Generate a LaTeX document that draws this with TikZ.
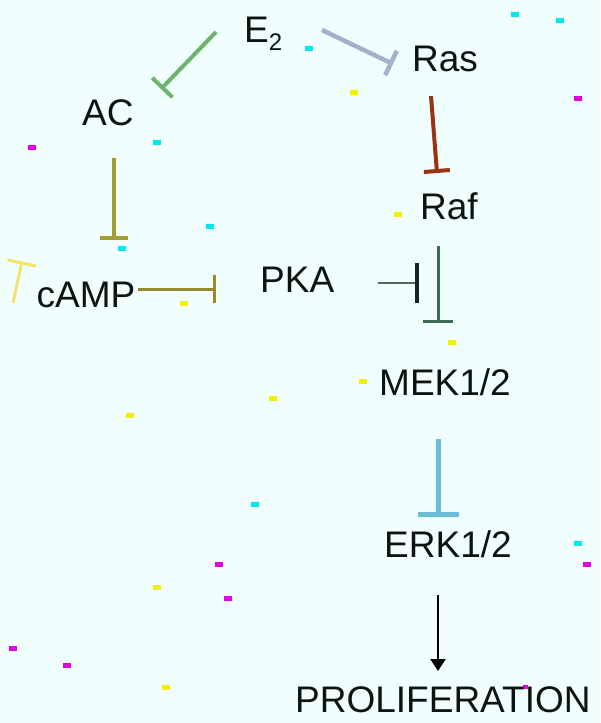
\documentclass[tikz,border=0pt]{standalone}
\usepackage{fontspec}
\setmainfont{Liberation Sans}
\usetikzlibrary{arrows.meta}
\definecolor{bgc}{RGB}{240,255,254}
\definecolor{cGreen}{RGB}{108,180,108}
\definecolor{cBlueGrey}{RGB}{160,178,205}
\definecolor{cBrown}{RGB}{155,50,20}
\definecolor{cOlive}{RGB}{163,156,48}
\definecolor{cOliveB}{RGB}{150,140,45}
\definecolor{cPaleY}{RGB}{240,228,110}
\definecolor{cPkaLine}{RGB}{85,105,95}
\definecolor{cPkaBar}{RGB}{25,35,30}
\definecolor{cDkGreen}{RGB}{62,108,82}
\definecolor{cLtBlue}{RGB}{105,192,212}
\definecolor{spC}{RGB}{0,232,240}
\definecolor{spY}{RGB}{240,240,0}
\definecolor{spM}{RGB}{228,0,228}
\definecolor{txt}{RGB}{12,20,16}
\tikzset{
  lbl/.style={anchor=base west, inner sep=0pt, text=txt, font=\fontsize{37}{40}\selectfont},
  inh/.style={line cap=butt},
}
\begin{document}
\begin{tikzpicture}[x=1pt,y=-1pt]
\useasboundingbox (0,0) rectangle (600,723);
\fill[bgc] (0,0) rectangle (600,723);

% speckles
\foreach \x/\y in {515/14,560/20,309/48,157/142,210/226,122/248,255/504,578/543}
  \fill[spC] (\x-4,\y-2.5) rectangle (\x+4,\y+2.5);
\foreach \x/\y in {354/92,398/214,452/342,363/381,184/303,130/415,273/398,157/587,166/687}
  \fill[spY] (\x-4,\y-2.5) rectangle (\x+4,\y+2.5);
\foreach \x/\y in {32/147,578/98,219/564,228/598,13/648,67/665,587/564}
  \fill[spM] (\x-4,\y-2.5) rectangle (\x+4,\y+2.5);
\fill[spM] (523,685) rectangle (528,689);

% text nodes
\node[lbl] (e2) at (244,42) {E\raisebox{-8pt}{\fontsize{24}{24}\selectfont 2}};
\node[lbl] (ras) at (412,71) {Ras};
\node[lbl] (ac) at (82,125) {AC};
\node[lbl] (raf) at (420,219) {Raf};
\node[lbl] (camp) at (36.5,307) {cAMP};
\node[lbl] (pka) at (260,292) {PKA};
\node[lbl] (mek) at (379,395) {MEK1/2};
\node[lbl] (erk) at (384,557) {ERK1/2};
\node[lbl] (prolif) at (295,712) {PROLIFERATION};

% connector end points
\coordinate (e2ac1) at (216,32);   \coordinate (e2ac2) at (161,89);
\coordinate (e2ras1) at (322,30);  \coordinate (e2ras2) at (393,64);
\coordinate (rasraf1) at (431,96); \coordinate (rasraf2) at (437,173);
\coordinate (accamp1) at (114,158);\coordinate (accamp2) at (114,240);
\coordinate (camppka1) at (138,289);\coordinate (camppka2) at (216,289);
\coordinate (yel1) at (13,303);    \coordinate (yel2) at (22,261.5);
\coordinate (pkax1) at (378,283);  \coordinate (pkax2) at (419,283);
\coordinate (rafmek1) at (438,246);\coordinate (rafmek2) at (438,323);
\coordinate (mekerk1) at (438,439);\coordinate (mekerk2) at (438,517);
\coordinate (erkpro1) at (438,595);\coordinate (erkpro2) at (438,671);

% connectors
\draw[inh, cGreen, line width=4pt, -{Bar[width=28pt]}] (e2ac1) -- (e2ac2);
\draw[inh, cBlueGrey, line width=4.5pt, -{Bar[width=27pt]}] (e2ras1) -- (e2ras2);
\draw[inh, cBrown, line width=4pt, -{Bar[width=26pt]}] (rasraf1) -- (rasraf2);
\draw[inh, cOlive, line width=4pt, -{Bar[width=28pt]}] (accamp1) -- (accamp2);
\draw[inh, cOliveB, line width=3pt, -{Bar[width=28pt]}] (camppka1) -- (camppka2);
\draw[inh, cPaleY, line width=3pt, -{Bar[width=29pt]}] (yel1) -- (yel2);
\draw[inh, cPkaLine, line width=2.5pt, -{Bar[width=40pt,line width=4pt,color=cPkaBar]}] (pkax1) -- (pkax2);
\draw[inh, cDkGreen, line width=3pt, -{Bar[width=30pt]}] (rafmek1) -- (rafmek2);
\draw[inh, cLtBlue, line width=5pt, -{Bar[width=41pt]}] (mekerk1) -- (mekerk2);
\draw[black, line width=2pt, -{Triangle[width=15pt,length=12pt]}] (erkpro1) -- (erkpro2);
\end{tikzpicture}
\end{document}
